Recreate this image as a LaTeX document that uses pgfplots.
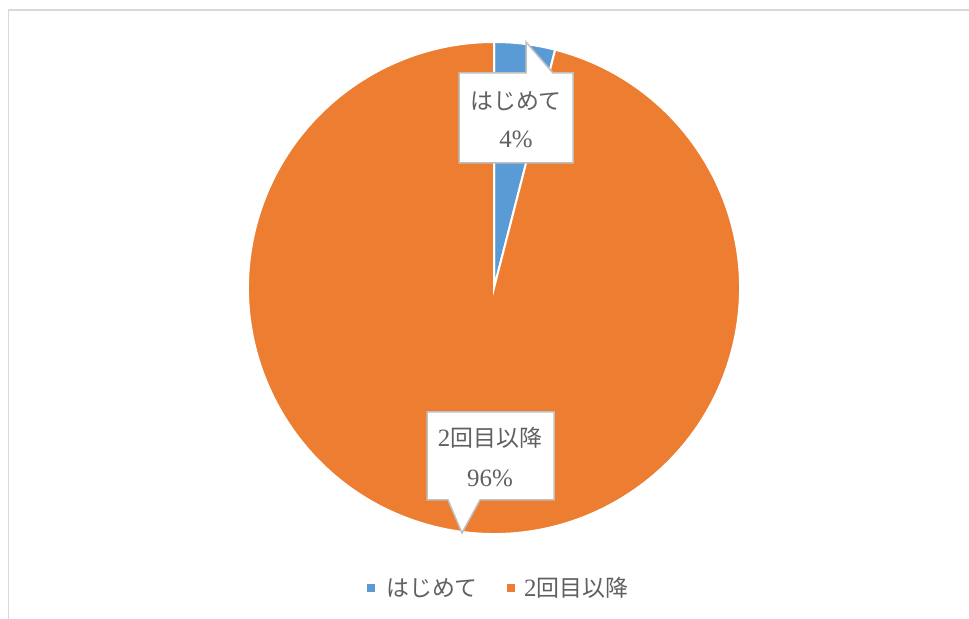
\documentclass[border=0pt]{standalone}
\usepackage{fontspec}
\setmainfont{Liberation Serif}
\newfontfamily\cjk{Noto Sans CJK JP}
\usepackage{pgfplots}
\usepackage{pgfplotstable}
\pgfplotsset{compat=1.18}
\definecolor{cblue}{HTML}{5B9BD5}
\definecolor{corange}{HTML}{ED7D31}
\definecolor{ctext}{HTML}{606060}
\definecolor{cframe}{HTML}{D9D9D9}
\definecolor{cbox}{HTML}{BFBFBF}
\pgfplotstableread{
id value
1 4
2 96
}\piedata
\newcommand\jfont{\cjk\fontsize{23}{27}\selectfont}
\newcommand\dfont{\fontsize{25}{29}\selectfont}
\begin{document}
\begin{tikzpicture}[x=1bp,y=1bp]
\useasboundingbox (0,0) rectangle (969,619);
\fill[white] (0,0) rectangle (969,619);
\draw[cframe, line width=1.5bp] (8.5,-5) -- (8.5,609) -- (975,609);
\pgfplotstablegetelem{0}{value}\of\piedata \let\va\pgfplotsretval
\pgfplotstablegetelem{1}{value}\of\piedata \let\vb\pgfplotsretval
\pgfmathsetmacro\angA{90-3.6*\va}
\begin{axis}[at={(494bp,331bp)}, anchor=origin, x=246bp, y=246bp,
  xmin=-1.05, xmax=1.05, ymin=-1.05, ymax=1.05, hide axis, clip=false]
\addplot[draw=none] coordinates {(0,0)};
\filldraw[fill=cblue, draw=white, line width=2bp] (axis cs:0,0) -- (axis cs:0,1)
  arc[start angle=90, end angle=\angA, radius=246bp] -- cycle;
\filldraw[fill=corange, draw=white, line width=2bp] (axis cs:0,0) -- (axis cs:{cos(\angA)},{sin(\angA)})
  arc[start angle=\angA, end angle=-270, radius=246bp] -- cycle;
\end{axis}
% callout 1
\filldraw[fill=white, draw=cbox, line width=1.5bp] (459,456) -- (573,456) -- (573,546) -- (553,546) -- (526,577) -- (526,546) -- (459,546) -- cycle;
\node[text=ctext, font=\jfont] at (516,518) {はじめて};
\node[text=ctext, font=\dfont] at (516,480) {4\%};
% callout 2
\filldraw[fill=white, draw=cbox, line width=1.5bp] (427,119) -- (448,119) -- (462,86) -- (480,119) -- (554,119) -- (554,207) -- (427,207) -- cycle;
\node[text=ctext] at (490,181) {\dfont 2\jfont 回目以降};
\node[text=ctext, font=\dfont] at (490,141) {96\%};
% legend
\fill[cblue] (367,27) rectangle (375,35);
\node[anchor=west, inner sep=0pt, text=ctext, font=\jfont] at (386,31) {はじめて};
\fill[corange] (507,27) rectangle (515,35);
\node[anchor=west, inner sep=0pt, text=ctext] at (524,31) {\dfont 2\jfont 回目以降};
\end{tikzpicture}
\end{document}
